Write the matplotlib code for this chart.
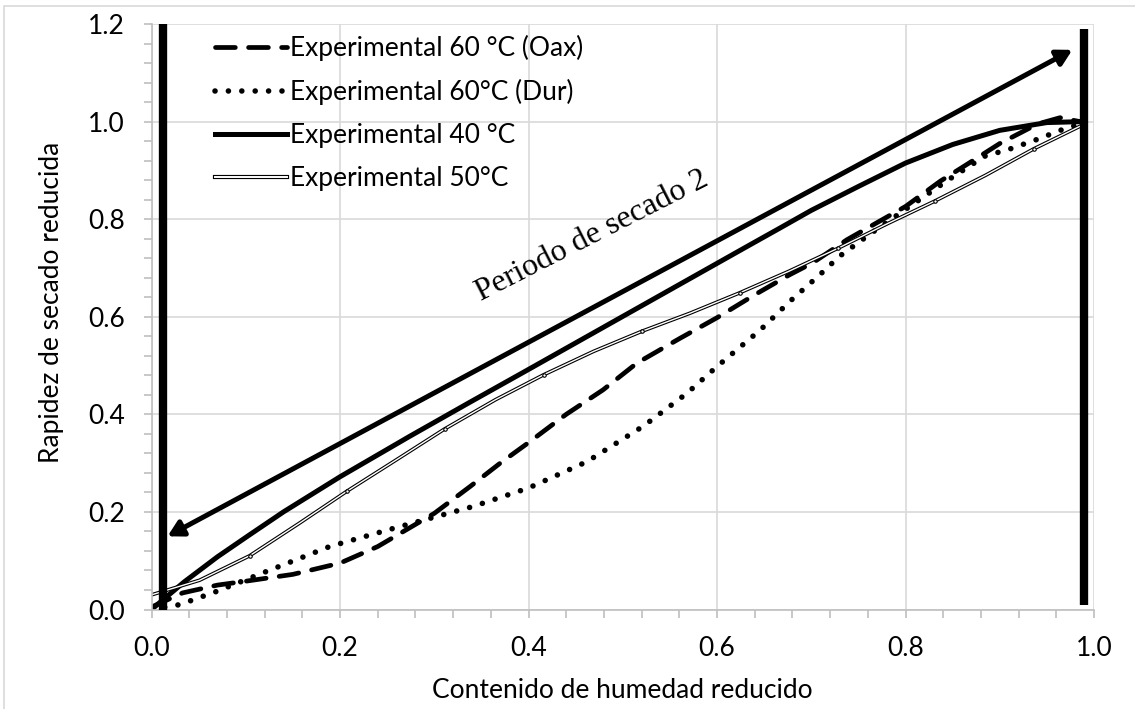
import matplotlib
matplotlib.use('Agg')
import matplotlib.pyplot as plt
from matplotlib.patches import FancyArrowPatch, Rectangle
from matplotlib.lines import Line2D
from matplotlib.legend_handler import HandlerTuple
from matplotlib.ticker import MultipleLocator, FormatStrFormatter

# Datos
x_oax = [0.0, 0.033, 0.07, 0.10, 0.15, 0.20, 0.24, 0.27, 0.30, 0.338, 0.37, 0.40, 0.44,
         0.479, 0.515, 0.56, 0.60, 0.64, 0.677, 0.702, 0.738, 0.769, 0.80, 0.837, 0.865,
         0.90, 0.94, 0.964, 0.985]
y_oax = [0.005, 0.034, 0.05, 0.058, 0.072, 0.095, 0.129, 0.163, 0.197, 0.252, 0.30, 0.342, 0.40,
         0.45, 0.505, 0.555, 0.598, 0.645, 0.686, 0.711, 0.758, 0.792, 0.826, 0.878, 0.912,
         0.955, 0.995, 1.008, 1.0]

x_dur = [0.0, 0.03, 0.069, 0.122, 0.189, 0.258, 0.341, 0.40, 0.462, 0.522, 0.568, 0.60,
         0.646, 0.677, 0.709, 0.73, 0.77, 0.80, 0.845, 0.884, 0.911, 0.939, 0.967, 0.985]
y_dur = [0.0, 0.01, 0.037, 0.078, 0.129, 0.167, 0.211, 0.249, 0.303, 0.376, 0.443, 0.498,
         0.573, 0.631, 0.686, 0.724, 0.78, 0.82, 0.88, 0.929, 0.944, 0.963, 0.984, 0.995]

x_40 = [0.0, 0.035, 0.07, 0.104, 0.14, 0.20, 0.274, 0.338, 0.40, 0.515, 0.63, 0.667, 0.70,
        0.75, 0.80, 0.85, 0.90, 0.95, 0.989]
y_40 = [0.0, 0.057, 0.108, 0.153, 0.20, 0.272, 0.355, 0.425, 0.492, 0.617, 0.742, 0.782, 0.818,
        0.867, 0.915, 0.953, 0.982, 0.998, 1.0]

x_50 = [0.0, 0.051, 0.104, 0.157, 0.207, 0.26, 0.311, 0.365, 0.416, 0.469, 0.52, 0.571,
        0.624, 0.676, 0.728, 0.78, 0.831, 0.885, 0.936, 0.99]
y_50 = [0.03, 0.06, 0.11, 0.177, 0.242, 0.307, 0.37, 0.43, 0.481, 0.529, 0.57, 0.607,
        0.649, 0.693, 0.74, 0.79, 0.837, 0.89, 0.944, 0.995]

labels = ['Experimental 60 °C (Oax)', 'Experimental 60°C (Dur)',
          'Experimental 40 °C', 'Experimental 50°C']

# limites del periodo y flecha
limite_x = [0.0127, 0.989]
limite_y0 = [0.0, 0.01]
limite_y1 = [1.2, 1.19]
flecha_ini = (0.017, 0.15)
flecha_fin = (0.977, 1.147)

FONT = ['Lato', 'DejaVu Sans']
plt.rcParams['font.family'] = FONT
FS = 19

fig = plt.figure(figsize=(11.35, 7.09), dpi=100)
ax = fig.add_axes([151.5 / 1135, 1 - 609.5 / 709, 942.5 / 1135, 585.5 / 709])

# marco exterior del grafico
fig.patches.append(Rectangle((4 / 1135, -0.05), 1.2, 1.05 - 6 / 709, transform=fig.transFigure,
                             fill=False, edgecolor='#d9d9d9', lw=1.2))

grid_c = '#d9d9d9'
ax.set_xlim(0, 1.0)
ax.set_ylim(0, 1.2)
ax.xaxis.set_major_locator(MultipleLocator(0.2))
ax.yaxis.set_major_locator(MultipleLocator(0.2))
ax.xaxis.set_minor_locator(MultipleLocator(0.04))
ax.yaxis.set_minor_locator(MultipleLocator(0.04))
ax.xaxis.set_major_formatter(FormatStrFormatter('%.1f'))
ax.yaxis.set_major_formatter(FormatStrFormatter('%.1f'))
ax.grid(True, which='major', color=grid_c, lw=1.2)
ax.set_axisbelow(True)
for s in ['top', 'right']:
    ax.spines[s].set_visible(False)
for s in ['left', 'bottom']:
    ax.spines[s].set_color('#bfbfbf')
    ax.spines[s].set_linewidth(1.2)
ax.tick_params(which='both', direction='out', length=6, width=1.2, color='#bfbfbf',
               labelsize=FS, labelcolor='black')
ax.tick_params(axis='x', pad=13)
ax.tick_params(axis='y', pad=13)

ax.plot(x_oax, y_oax, color='black', lw=3.4, dashes=(4.2, 2.8), dash_capstyle='round')
ax.plot(x_dur, y_dur, color='black', lw=4.0, dashes=(0.01, 2.4), dash_capstyle='round')
ax.plot(x_40, y_40, color='black', lw=3.6, solid_capstyle='round', solid_joinstyle='round')
ax.plot(x_50, y_50, color='black', lw=2.6, solid_joinstyle='round')
ax.plot(x_50, y_50, color='white', lw=1.0, marker='o', ms=2.5, mfc='white', mec='black',
        mew=0.8, markevery=slice(2, 19, 2))

# lineas verticales que delimitan el periodo
ax.vlines(limite_x, limite_y0, limite_y1, color='black', lw=6, clip_on=False, zorder=5)

arrow = FancyArrowPatch(flecha_ini, flecha_fin, arrowstyle='<|-|>,head_length=0.45,head_width=0.25',
                        mutation_scale=20, lw=3.6, color='black', shrinkA=0, shrinkB=0, zorder=6)
ax.add_patch(arrow)

ax.text(0.467, 0.765, 'Periodo de secado 2', family='Liberation Serif', fontsize=23,
        rotation=27, rotation_mode='anchor', ha='center', va='center')

ax.set_xlabel('Contenido de humedad reducido', fontsize=FS, va='center')
ax.xaxis.set_label_coords(0.5, -0.1375)
ax.set_ylabel('Rapidez de secado reducida', fontsize=FS, va='center')
ax.yaxis.set_label_coords(-0.1056, 0.524)

h_oax = Line2D([], [], color='black', lw=3.4, dashes=(4.2, 2.8), dash_capstyle='round')
h_dur = Line2D([], [], color='black', lw=4.0, dashes=(0.01, 2.4), dash_capstyle='round')
h_40 = Line2D([], [], color='black', lw=3.6)
h_50a = Line2D([], [], color='black', lw=3.0)
h_50b = Line2D([], [], color='white', lw=1.4)
ax.legend([h_oax, h_dur, h_40, (h_50a, h_50b)], labels,
          handler_map={tuple: HandlerTuple(ndivide=1)},
          loc='upper left', bbox_to_anchor=(0.067, 0.981), frameon=False, fontsize=FS,
          handlelength=2.75, handletextpad=0.1, labelspacing=0.68, borderaxespad=0, borderpad=0)

fig.savefig('out.png', dpi=100)
